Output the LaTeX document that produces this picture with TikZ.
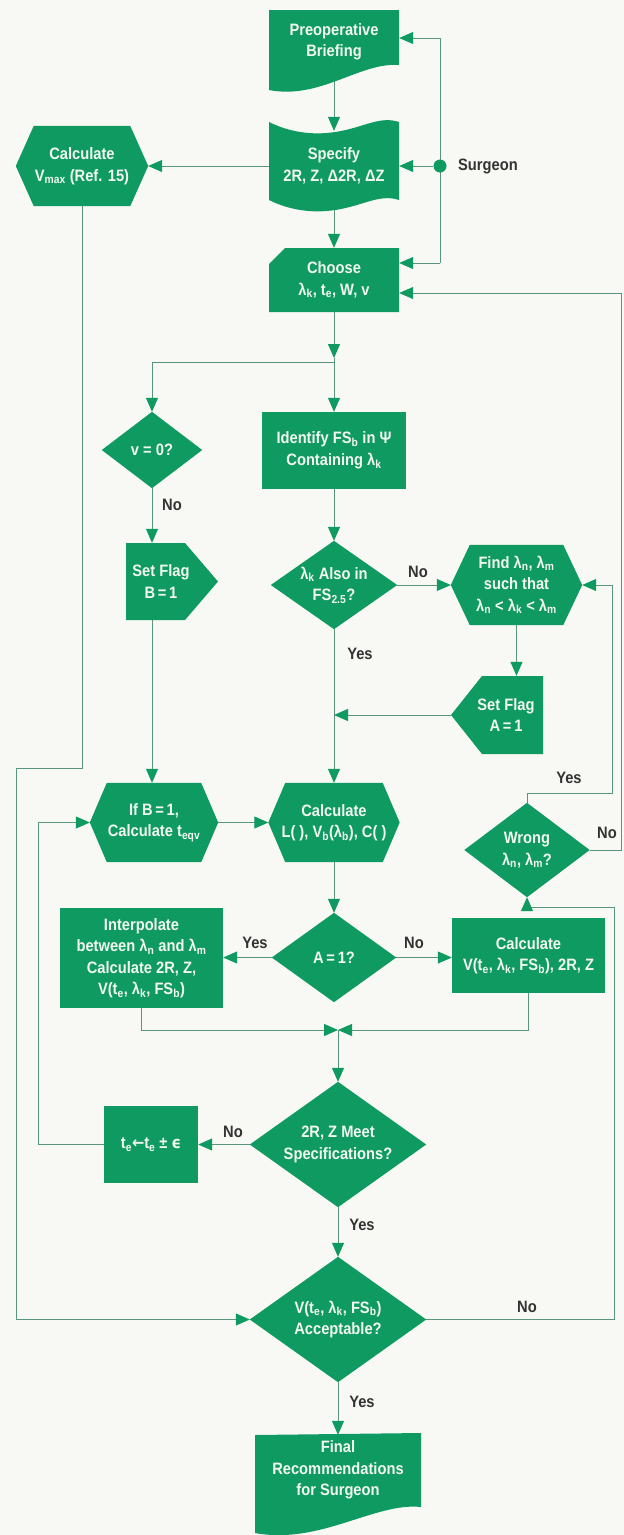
\documentclass[tikz,border=0pt]{standalone}
\usepackage{fontspec}
\setmainfont[FakeStretch=0.89]{Liberation Sans}
\newfontfamily\djv[FakeStretch=0.89]{DejaVu Sans}
\usetikzlibrary{arrows.meta,calc}
\pgfdeclarelayer{bglayer}
\pgfdeclarelayer{lines}
\pgfdeclarelayer{shapes}
\pgfsetlayers{bglayer,lines,shapes,main}
\definecolor{boxgreen}{HTML}{0F9A62}
\definecolor{linecol}{HTML}{5A967D}
\definecolor{boxtext}{HTML}{F2F8F0}
\definecolor{labcol}{HTML}{333333}
\definecolor{paper}{HTML}{F8F8F4}
\newcommand\sbs[1]{\textsubscript{#1}}
\newcommand\boxfont{\fontsize{16.5}{21.5}\selectfont\bfseries}
\newcommand\hexfill[2]{\fill[boxgreen] (#1.west) -- ([xshift=#2pt]#1.north west) -- ([xshift=-#2pt]#1.north east) -- (#1.east) -- ([xshift=-#2pt]#1.south east) -- ([xshift=#2pt]#1.south west) -- cycle;}
\newcommand\diafill[1]{\fill[boxgreen] (#1.north) -- (#1.east) -- (#1.south) -- (#1.west) -- cycle;}
\tikzset{
 box/.style={inner sep=0pt, text=boxtext, align=center, font=\boxfont},
 lab/.style={inner sep=0pt, text=labcol, font=\boxfont},
 conn/.style={draw=linecol, line width=1pt},
 arr/.style={conn, -{Triangle[length=14pt,width=12pt,color=boxgreen]}},
}
\begin{document}
\begin{tikzpicture}[x=1pt,y=-1pt]
\useasboundingbox (0,0) rectangle (624,1535);
\begin{pgfonlayer}{bglayer}
\fill[paper] (0,0) rectangle (624,1535);
\end{pgfonlayer}

% ---------- nodes (text) ----------
\node[box,minimum width=130pt,minimum height=64pt] (pre) at (334,42) {Preoperative\\Briefing};
\node[box,minimum width=130pt,minimum height=70pt] (spec) at (334,166) {Specify\\2R, Z, Δ2R, ΔZ};
\node[box,minimum width=130pt,minimum height=64pt] (choose) at (334,280) {Choose\\λ\sbs{k}, t\sbs{e}, W, v};
\node[box,minimum width=132pt,minimum height=80pt] (vmax) at (82,166) {Calculate\\V\sbs{max} (Ref. 15)};
\node[circle,fill=boxgreen,minimum size=13pt,inner sep=0pt] (surg) at (440,166) {};
\node[lab,anchor=west] (surgl) at (458,166) {Surgeon};

\node[box,minimum width=144pt,minimum height=77pt] (ident) at (334,450.5) {Identify FS\sbs{b} in Ψ\\Containing λ\sbs{k}};
\node[box,minimum width=100pt,minimum height=76pt] (vz) at (152,450) {v = 0?};
\node[box,minimum width=126pt,minimum height=88pt] (lk) at (334,585) {λ\sbs{k} Also in\\FS\sbs{2.5}?};
\node[box,minimum width=131pt,minimum height=80pt] (find) at (516.5,585) {Find λ\sbs{n}, λ\sbs{m}\\such that\\λ\sbs{n} < λ\sbs{k} < λ\sbs{m}};
\node[box,minimum width=70pt,minimum height=77pt] (setB) at (161,581.5) {Set Flag\\B\,=\,1};
\node[box,minimum width=74pt,minimum height=78pt] (setA) at (506,715) {Set Flag\\A\,=\,1};
\coordinate (setAtip) at (451,715);

\node[box,minimum width=128pt,minimum height=79pt] (ifB) at (154,822.5) {If B\,=\,1,\\Calculate t\sbs{eqv}};
\node[box,minimum width=131pt,minimum height=79pt] (calcL) at (334,822.5) {Calculate\\L( ), V\sbs{b}(λ\sbs{b}), C( )};
\node[box,minimum width=125pt,minimum height=94pt] (wrong) at (527,850) {Wrong\\λ\sbs{n}, λ\sbs{m}?};
\node[box,minimum width=124pt,minimum height=89pt] (a1d) at (334,957.5) {A\,=\,1?};
\node[box,minimum width=163pt,minimum height=100pt] (interp) at (141.5,958) {Interpolate\\between λ\sbs{n} and λ\sbs{m}\\Calculate 2R, Z,\\V(t\sbs{e}, λ\sbs{k}, FS\sbs{b})};
\node[box,minimum width=153pt,minimum height=75pt] (calcV) at (528.5,955.5) {Calculate\\V(t\sbs{e}, λ\sbs{k}, FS\sbs{b}), 2R, Z};
\coordinate (m) at (338,1030);
\node[box,minimum width=176pt,minimum height=125pt] (rz) at (338,1144.5) {2R, Z Meet\\Specifications?};
\node[box,minimum width=94pt,minimum height=76pt] (te) at (151,1144.5) {t\sbs{e}{\djv ←}t\sbs{e} ± {\djv ϵ}};
\node[box,minimum width=176pt,minimum height=125pt] (acc) at (338,1319.5) {V(t\sbs{e}, λ\sbs{k}, FS\sbs{b})\\Acceptable?};
\node[box,minimum width=166pt,minimum height=70pt] (final) at (338,1470) {Final\\Recommendations\\for Surgeon};

% ---------- labels ----------
\node[lab] (l1) at (172,505) {No};
\node[lab] (l2) at (418,572) {No};
\node[lab] (l3) at (360,654) {Yes};
\node[lab] (l4) at (569,778) {Yes};
\node[lab] (l5) at (607,833) {No};
\node[lab] (l6) at (255,943) {Yes};
\node[lab] (l7) at (414,943) {No};
\node[lab] (l8) at (233,1132) {No};
\node[lab] (l9) at (362,1225) {Yes};
\node[lab] (l10) at (527,1307) {No};
\node[lab] (l11) at (362,1402) {Yes};

% ---------- shapes ----------
\begin{pgfonlayer}{shapes}
\fill[boxgreen] (269,10) -- (399,10) -- (399,65) .. controls (360,62) and (320,100) .. (269,90) -- cycle;
\fill[boxgreen] (269,122) .. controls (291,133) and (316,136) .. (341,131) .. controls (366,126) and (381,116) .. (399,122) -- (399,200) .. controls (381,194) and (366,204) .. (341,209) .. controls (316,214) and (291,211) .. (269,200) -- cycle;
\fill[boxgreen] (285,248) -- (399,248) -- (399,312) -- (269,312) -- (269,264) -- cycle;
\hexfill{vmax}{18}
\fill[boxgreen] (ident.north west) rectangle (ident.south east);
\diafill{vz}
\diafill{lk}
\hexfill{find}{19}
\fill[boxgreen] (126,543) -- (185,543) -- (218,581.5) -- (185,620) -- (126,620) -- cycle;
\fill[boxgreen] (543,676) -- (482,676) -- (setAtip) -- (482,754) -- (543,754) -- cycle;
\hexfill{ifB}{17}
\hexfill{calcL}{17}
\diafill{wrong}
\diafill{a1d}
\fill[boxgreen] (interp.north west) rectangle (interp.south east);
\fill[boxgreen] (calcV.north west) rectangle (calcV.south east);
\diafill{rz}
\fill[boxgreen] (te.north west) rectangle (te.south east);
\diafill{acc}
\fill[boxgreen] (255,1435) -- (421,1433) -- (421,1507) .. controls (375,1502) and (320,1545) .. (255,1533) -- cycle;
\end{pgfonlayer}

% ---------- connectors ----------
\begin{pgfonlayer}{lines}
\draw[arr] (pre.south) -- (spec.north);
\draw[arr] (spec.south) -- (choose.north);
\draw[arr] (spec.west) -- (spec.west -| vmax.east);
\coordinate (s1) at (440,38);
\coordinate (s3) at (440,263);
\draw[conn] (s1) -- (s3);
\draw[arr] (s1) -- (s1 -| pre.east);
\draw[arr] (surg) -- (surg -| spec.east);
\draw[arr] (s3) -- (s3 -| choose.east);
\coordinate (r1) at (621,293);
\draw[arr] (wrong.east) -- (wrong.east -| r1) -- (r1) -- (r1 -| choose.east);
\coordinate (a1) at (334,358);
\coordinate (j1) at (334,362);
\draw[arr] (choose.south) -- (a1);
\draw[arr] (a1) -- (ident.north);
\draw[arr] (j1) -| (vz.north);
\draw[arr] (vz.south) -- (vz.south |- setB.north);
\draw[arr] (ident.south) -- (lk.north);
\draw[arr] (lk.east) -- (find.west);
\draw[arr] (find.south) -- (find.south |- setA.north);
\draw[arr] (setAtip) -- (setAtip -| lk.south);
\draw[arr] (lk.south) -- (calcL.north);
\draw[arr] (setB.south -| vz.south) -- (ifB.north -| vz.south);
\draw[arr] (ifB.east) -- (calcL.west);
\draw[arr] (calcL.south) -- (a1d.north);
\draw[arr] (a1d.west) -- (a1d.west -| interp.east);
\draw[arr] (a1d.east) -- (a1d.east -| calcV.west);
\draw[arr] (interp.south) |- (m);
\draw[arr] (calcV.south) |- (m);
\draw[arr] (m) -- (rz.north);
\draw[arr] (rz.west) -- (te.east);
\coordinate (lb) at (38,1144.5);
\draw[arr] (te.west) -- (lb) |- (ifB.west);
\coordinate (cL1) at (16,768);
\draw[arr] (vmax.south) |- (cL1) |- (acc.west);
\draw[arr] (rz.south) -- (acc.north);
\draw[arr] (acc.south) -- (final.north);
\coordinate (rr1) at (614,1319.5);
\coordinate (rr2) at (527,907);
\draw[arr] (acc.east) -- (rr1) |- (rr2) -- (wrong.south);
\coordinate (w1) at (527,793);
\coordinate (w2) at (612,585);
\draw[arr] (wrong.north) -- (w1) -| (w2) -- (find.east);
\end{pgfonlayer}
\end{tikzpicture}
\end{document}
